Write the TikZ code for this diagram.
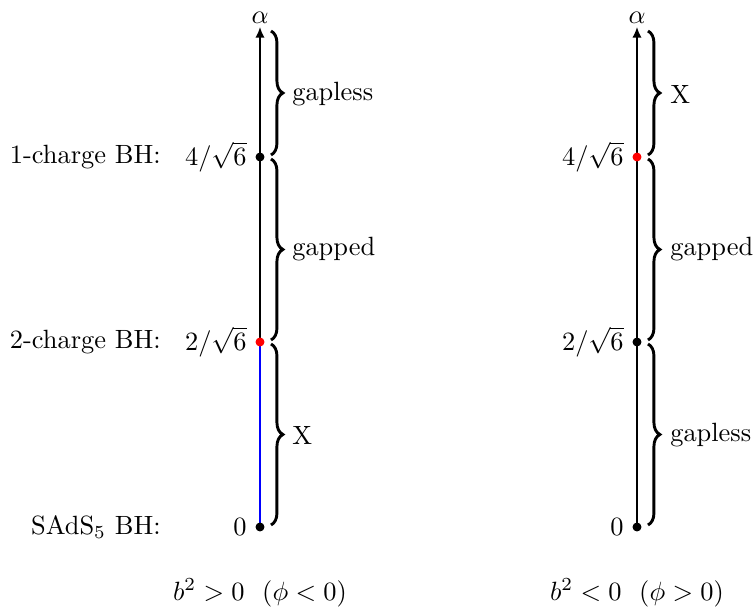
\documentclass[tikz,border=0pt]{standalone}
\usetikzlibrary{decorations.pathreplacing,arrows.meta}
\begin{document}
\begin{tikzpicture}[x=0.3788pt,y=-0.3788pt,
  axisline/.style={line width=0.6pt},
  bracedeco/.style={decorate,decoration={brace,amplitude=4.5pt},line width=1.1pt},
  dotblack/.style={circle,fill=black,inner sep=0pt,minimum size=3.4pt},
  dotred/.style={circle,fill=red,inner sep=0pt,minimum size=3.4pt}]
\useasboundingbox (0,0) rectangle (755,608);
% ---- left axis ----
\coordinate (L0) at (260,527);
\coordinate (L2) at (260,342);
\coordinate (L4) at (260,157);
\coordinate (Ltop) at (260,27);
\draw[axisline,blue] (L0) -- (L2);
\draw[axisline,-{Latex[length=4pt,width=3.5pt]}] (L2) -- (Ltop);
\node[anchor=south,inner sep=1pt] (La) at (Ltop) {$\alpha$};
\node[dotblack] (d0) at (L0) {};
\node[dotred] (d2) at (L2) {};
\node[dotblack] (d4) at (L4) {};
\node[anchor=east] (t0) at (256,527) {$0$};
\node[anchor=east] (t2) at (256,342) {$2/\sqrt{6}$};
\node[anchor=east] (t4) at (256,157) {$4/\sqrt{6}$};
\node[anchor=east] (n1) at (170,157) {1-charge BH:};
\node[anchor=east] (n2) at (170,342) {2-charge BH:};
\node[anchor=east] (n0) at (170,527) {SAdS$_5$ BH:};
\coordinate (Lb1a) at (271,31);
\coordinate (Lb1b) at (271,155);
\coordinate (Lb2a) at (271,159);
\coordinate (Lb2b) at (271,340);
\coordinate (Lb3a) at (271,344);
\coordinate (Lb3b) at (271,525);
\draw[bracedeco] (Lb1a) -- (Lb1b);
\draw[bracedeco] (Lb2a) -- (Lb2b);
\draw[bracedeco] (Lb3a) -- (Lb3b);
\node[anchor=west] (g1) at (283,94) {gapless};
\node[anchor=west] (g2) at (283,249) {gapped};
\node[anchor=west] (g3) at (283,435) {X};
\node (cap1) at (260,593) {$b^2>0\ \ (\phi<0)$};
% ---- right axis ----
\coordinate (R0) at (637,527);
\coordinate (R2) at (637,342);
\coordinate (R4) at (637,157);
\coordinate (Rtop) at (637,27);
\draw[axisline,-{Latex[length=4pt,width=3.5pt]}] (R0) -- (Rtop);
\node[anchor=south,inner sep=1pt] (Ra) at (Rtop) {$\alpha$};
\node[dotblack] (e0) at (R0) {};
\node[dotblack] (e2) at (R2) {};
\node[dotred] (e4) at (R4) {};
\node[anchor=east] (s0) at (633,527) {$0$};
\node[anchor=east] (s2) at (633,342) {$2/\sqrt{6}$};
\node[anchor=east] (s4) at (633,157) {$4/\sqrt{6}$};
\coordinate (Rb1a) at (648,31);
\coordinate (Rb1b) at (648,155);
\coordinate (Rb2a) at (648,159);
\coordinate (Rb2b) at (648,340);
\coordinate (Rb3a) at (648,344);
\coordinate (Rb3b) at (648,525);
\draw[bracedeco] (Rb1a) -- (Rb1b);
\draw[bracedeco] (Rb2a) -- (Rb2b);
\draw[bracedeco] (Rb3a) -- (Rb3b);
\node[anchor=west] (h1) at (661,94) {X};
\node[anchor=west] (h2) at (661,249) {gapped};
\node[anchor=west] (h3) at (661,435) {gapless};
\node (cap2) at (637,593) {$b^2<0\ \ (\phi>0)$};
\end{tikzpicture}
\end{document}
